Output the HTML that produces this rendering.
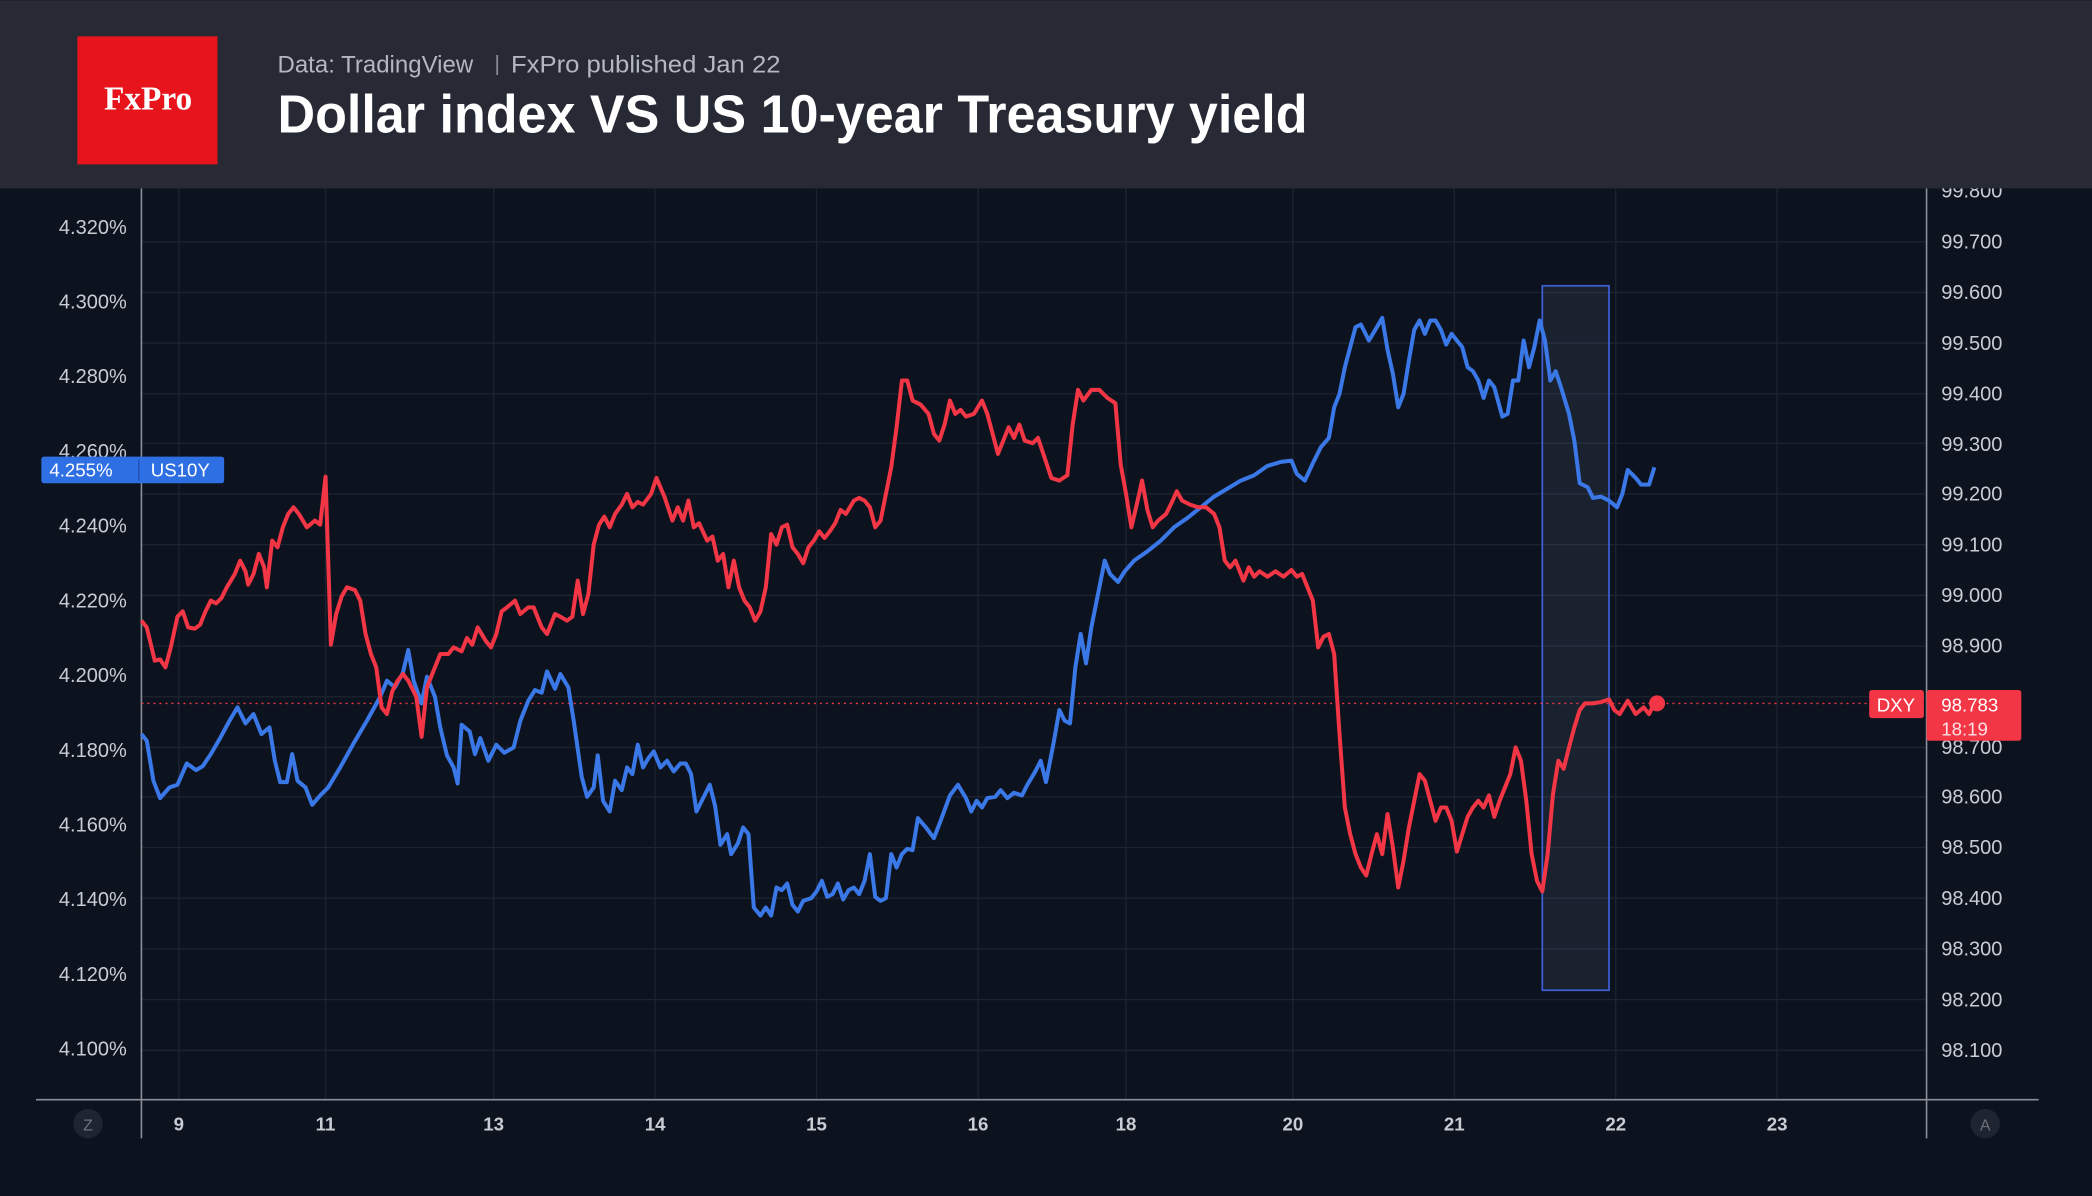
<!DOCTYPE html>
<html><head><meta charset="utf-8"><style>
html,body{margin:0;padding:0;background:#0d131e;}
svg{display:block}
text{font-family:"Liberation Sans",sans-serif;}
</style></head><body>
<svg width="2092" height="1196" viewBox="0 0 1568 896" xmlns="http://www.w3.org/2000/svg">
<rect x="0" y="0" width="1568" height="896" fill="#0d131e"/>

<g stroke="#1c2331" stroke-width="1">
<line x1="106" y1="181" x2="1444" y2="181"/><line x1="106" y1="219" x2="1444" y2="219"/>
<line x1="106" y1="257" x2="1444" y2="257"/><line x1="106" y1="295" x2="1444" y2="295"/>
<line x1="106" y1="332" x2="1444" y2="332"/><line x1="106" y1="370" x2="1444" y2="370"/>
<line x1="106" y1="408" x2="1444" y2="408"/><line x1="106" y1="446" x2="1444" y2="446"/>
<line x1="106" y1="484" x2="1444" y2="484"/><line x1="106" y1="522" x2="1444" y2="522"/>
<line x1="106" y1="560" x2="1444" y2="560"/><line x1="106" y1="597" x2="1444" y2="597"/>
<line x1="106" y1="635" x2="1444" y2="635"/><line x1="106" y1="673" x2="1444" y2="673"/>
<line x1="106" y1="711" x2="1444" y2="711"/><line x1="106" y1="749" x2="1444" y2="749"/>
<line x1="106" y1="787" x2="1444" y2="787"/>
<line x1="134" y1="141" x2="134" y2="824"/><line x1="244" y1="141" x2="244" y2="824"/>
<line x1="370" y1="141" x2="370" y2="824"/><line x1="491" y1="141" x2="491" y2="824"/>
<line x1="612" y1="141" x2="612" y2="824"/><line x1="733" y1="141" x2="733" y2="824"/>
<line x1="844" y1="141" x2="844" y2="824"/><line x1="969" y1="141" x2="969" y2="824"/>
<line x1="1090" y1="141" x2="1090" y2="824"/><line x1="1211" y1="141" x2="1211" y2="824"/>
<line x1="1332" y1="141" x2="1332" y2="824"/>
</g>
<line x1="106" y1="141" x2="106" y2="853" stroke="#8a8f99" stroke-width="1.2"/>
<line x1="1444" y1="141" x2="1444" y2="853" stroke="#8a8f99" stroke-width="1.2"/>
<line x1="27" y1="824" x2="1528" y2="824" stroke="#8a8f99" stroke-width="1.2"/>

<g fill="#c9ccd3" font-size="15" text-anchor="end">
<text x="95" y="175">4.320%</text><text x="95" y="231">4.300%</text><text x="95" y="287">4.280%</text>
<text x="95" y="343">4.260%</text><text x="95" y="399">4.240%</text><text x="95" y="455">4.220%</text>
<text x="95" y="511">4.200%</text><text x="95" y="567">4.180%</text><text x="95" y="623">4.160%</text>
<text x="95" y="679">4.140%</text><text x="95" y="735">4.120%</text><text x="95" y="791">4.100%</text>
</g>
<g fill="#c9ccd3" font-size="15">
<text x="1455" y="148">99.800</text><text x="1455" y="186">99.700</text><text x="1455" y="224">99.600</text>
<text x="1455" y="262">99.500</text><text x="1455" y="300">99.400</text><text x="1455" y="338">99.300</text>
<text x="1455" y="375">99.200</text><text x="1455" y="413">99.100</text><text x="1455" y="451">99.000</text>
<text x="1455" y="489">98.900</text><text x="1455" y="565">98.700</text>
<text x="1455" y="602">98.600</text><text x="1455" y="640">98.500</text><text x="1455" y="678">98.400</text>
<text x="1455" y="716">98.300</text><text x="1455" y="754">98.200</text><text x="1455" y="792">98.100</text>
</g>
<g fill="#c9ccd3" font-size="14" font-weight="bold" text-anchor="middle">
<text x="134" y="847">9</text><text x="244" y="847">11</text><text x="370" y="847">13</text>
<text x="491" y="847">14</text><text x="612" y="847">15</text><text x="733" y="847">16</text>
<text x="844" y="847">18</text><text x="969" y="847">20</text><text x="1090" y="847">21</text>
<text x="1211" y="847">22</text><text x="1332" y="847">23</text>
</g>
<circle cx="66" cy="842" r="11" fill="#1e2430"/><text x="66" y="847" fill="#6d727c" font-size="12" text-anchor="middle">Z</text>
<circle cx="1488" cy="842" r="11" fill="#1e2430"/><text x="1488" y="847" fill="#6d727c" font-size="12" text-anchor="middle">A</text>

<rect x="1156" y="214" width="50" height="528" fill="#8090b0" fill-opacity="0.12" stroke="#3d5fd6" stroke-width="1.3"/>
<line x1="106" y1="527" x2="1400" y2="527" stroke="#f23645" stroke-width="1" stroke-dasharray="1.5,3"/>

<polyline fill="none" stroke="#3b78e7" stroke-width="3" stroke-linejoin="round" points="106,550 110,555 115,585 120,598 127,590 133,588 140,572 147,577 152,574 158,565 165,553 172,540 178,530 184,542 190,535 196,550 202,545 206,570 210,586 215,586 219,565 223,585 229,590 234,603 240,596 246,590 255,575 265,557 275,540 285,522 290,510 296,515 302,504 306,487 310,510 316,527 320,507 326,522 330,545 335,566 340,575 343,587 346,543 352,548 356,565 360,553 366,570 372,558 378,564 385,560 390,540 396,525 401,517 406,519 410,503 416,516 420,505 426,515 430,540 436,582 440,597 445,590 448,566 452,600 457,608 461,585 466,592 470,575 474,580 478,558 482,575 486,568 490,563 495,575 500,570 505,578 510,572 514,572 518,580 522,608 527,598 532,588 536,604 540,633 545,625 548,640 553,632 557,620 561,625 565,680 570,686 574,680 578,686 582,665 586,667 590,662 594,678 598,683 602,675 608,673 612,668 616,660 620,672 624,670 628,662 632,674 636,667 640,665 644,670 648,660 652,640 656,672 660,675 664,673 668,640 672,650 676,640 680,636 684,637 688,613 694,620 700,628 705,615 712,596 718,588 724,598 728,608 732,600 736,605 740,598 746,597 750,592 755,598 760,594 766,596 770,588 776,578 780,570 784,586 790,555 794,532 798,540 802,542 806,500 810,475 814,497 818,470 822,450 828,420 832,430 838,436 843,428 850,420 860,413 870,405 880,395 890,388 900,380 910,372 920,366 930,360 940,356 950,349 960,346 968,345 972,355 978,360 984,347 990,335 996,328 1000,305 1004,295 1008,275 1012,260 1016,245 1020,243 1026,255 1032,245 1036,238 1040,262 1044,280 1048,305 1052,295 1056,270 1060,247 1064,240 1068,250 1072,240 1076,240 1080,247 1084,258 1088,250 1092,255 1096,260 1100,275 1104,278 1108,285 1112,298 1116,285 1120,290 1126,312 1130,310 1134,285 1138,285 1142,255 1146,275 1150,260 1154,240 1158,255 1162,285 1166,278 1170,290 1176,310 1180,330 1184,362 1190,365 1194,373 1200,372 1206,375 1212,380 1216,370 1220,352 1226,358 1230,363 1236,363 1240,350"/>

<polyline fill="none" stroke="#f23645" stroke-width="3" stroke-linejoin="round" points="106,465 110,470 116,495 120,494 124,500 128,485 133,462 137,458 141,470 146,471 150,468 154,458 158,450 162,452 166,448 170,440 176,430 180,420 184,428 186,438 190,430 194,415 198,425 200,440 204,405 208,410 212,395 216,385 220,380 224,385 230,395 236,390 240,393 244,357 248,483 252,460 256,447 260,440 266,442 270,450 274,475 278,490 282,500 286,530 290,535 294,518 298,510 302,505 306,510 312,522 316,552 320,515 324,505 330,490 336,490 340,485 346,488 350,478 354,483 358,470 364,480 368,485 372,475 376,458 380,455 386,450 390,460 396,455 400,455 406,470 410,475 416,460 420,462 425,465 429,462 433,435 437,460 441,445 445,408 449,393 453,387 457,395 461,385 466,378 470,370 474,380 478,376 482,378 488,370 492,358 498,372 504,390 508,380 512,390 516,375 520,395 524,392 530,405 534,402 538,420 542,415 546,440 550,420 554,440 558,450 562,455 566,465 570,458 574,440 578,400 582,408 586,395 590,393 594,410 598,415 602,422 606,410 610,405 614,398 618,403 622,398 626,392 630,382 634,385 640,375 644,373 648,375 652,380 656,395 660,390 664,370 668,350 672,320 676,285 680,285 684,300 690,303 696,310 700,325 704,330 708,318 712,300 716,310 720,307 724,312 730,310 736,300 740,310 744,325 748,340 752,330 756,320 760,328 764,318 768,330 774,332 778,328 782,340 788,358 794,360 800,356 804,318 808,292 812,300 818,292 824,292 830,298 836,302 840,348 844,370 848,395 852,378 856,360 860,382 864,395 868,390 874,385 878,377 882,368 886,375 892,378 898,380 904,380 910,385 914,395 918,420 922,425 926,420 932,435 936,425 940,432 944,428 950,432 956,428 962,432 968,427 972,432 976,430 980,440 984,450 988,485 992,477 996,475 1000,490 1004,550 1008,605 1012,625 1016,640 1020,650 1024,656 1028,640 1032,625 1036,640 1040,610 1044,635 1048,665 1052,645 1056,620 1060,600 1064,580 1068,585 1072,600 1076,615 1080,605 1084,605 1088,615 1092,638 1096,625 1100,612 1104,605 1108,600 1112,605 1116,596 1120,612 1124,600 1128,590 1132,580 1136,560 1140,570 1144,600 1148,640 1152,660 1156,668 1160,640 1164,595 1168,570 1172,576 1176,560 1180,545 1184,532 1188,527 1194,527 1200,526 1206,524 1210,532 1214,535 1220,525 1226,535 1232,530 1236,535 1240,527"/>
<circle cx="1242" cy="527" r="6" fill="#f23645"/>

<rect x="31" y="342" width="137" height="20" rx="2" fill="#2f6fe4"/>
<text x="37" y="357" fill="#fff" font-size="14">4.255%</text>
<line x1="104" y1="344" x2="104" y2="360" stroke="#1e4fb0" stroke-width="1"/>
<text x="113" y="357" fill="#fff" font-size="14">US10Y</text>

<rect x="1401" y="517" width="41" height="21" rx="2" fill="#f23645"/>
<text x="1421" y="533" fill="#fff" font-size="14" text-anchor="middle">DXY</text>
<rect x="1444" y="517" width="71" height="38" rx="2" fill="#f23645"/>
<text x="1455" y="533" fill="#fff" font-size="14">98.783</text>
<text x="1455" y="551" fill="#ffe0e3" font-size="14">18:19</text>

<rect x="0" y="0" width="1568" height="141" fill="#272a35"/>
<rect x="58" y="27" width="105" height="96" fill="#e8141b"/>
<text x="111" y="82" fill="#fff" font-size="25" font-weight="bold" text-anchor="middle" style="font-family:'Liberation Serif',serif">FxPro</text>
<text x="208" y="54" fill="#b4b7bf" font-size="18">Data: TradingView</text>
<rect x="372" y="41" width="1.3" height="15" fill="#8a8d95"/>
<text x="383" y="54" fill="#b4b7bf" font-size="18" textLength="202" lengthAdjust="spacingAndGlyphs">FxPro published Jan 22</text>
<text x="208" y="99" fill="#ffffff" font-size="40" font-weight="bold" textLength="772" lengthAdjust="spacingAndGlyphs">Dollar index VS US 10-year Treasury yield</text>
</svg>
</body></html>
